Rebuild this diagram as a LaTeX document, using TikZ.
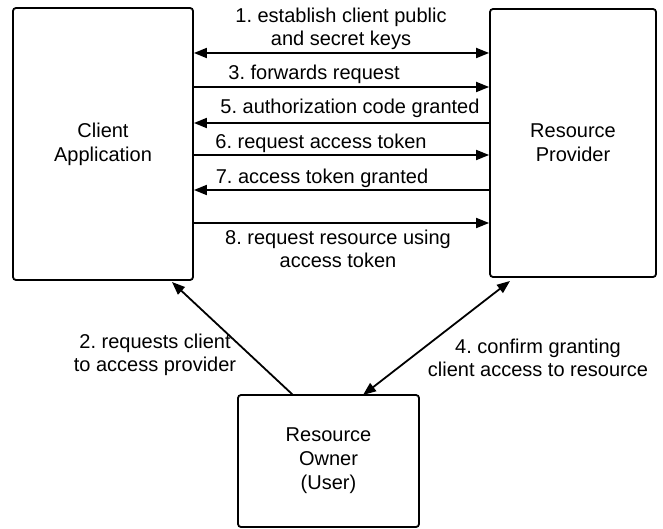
\documentclass[tikz,border=0pt]{standalone}
\usepackage{fontspec}
\setmainfont{Liberation Sans}
\usetikzlibrary{arrows.meta,calc}
\frenchspacing
\begin{document}
\begin{tikzpicture}[x=1pt,y=-1pt,
  box/.style={draw=black,line width=1.8pt,rounded corners=3pt,fill=white,align=center,inner sep=0pt,font=\fontsize{20}{24}\selectfont},
  lbl/.style={align=center,inner sep=0pt,font=\fontsize{20}{23}\selectfont},
  arr/.style={line width=1.8pt,-{Triangle[length=13pt,width=10pt]}},
  darr/.style={line width=1.8pt,{Triangle[length=13pt,width=10pt]}-{Triangle[length=13pt,width=10pt]}}]
\useasboundingbox (0,0) rectangle (663,529);
\node[box,minimum width=180pt,minimum height=272pt] (ca) at (103,144) {Client\\Application};
\node[box,minimum width=166pt,minimum height=268pt] (rp) at (573,143) {Resource\\Provider};
\node[box,minimum width=181pt,minimum height=132pt] (ro) at (328.5,461) {Resource\\Owner\\(User)};
% horizontal arrows
\coordinate (y1) at (0,53);
\coordinate (y3) at (0,87);
\coordinate (y5) at (0,123);
\coordinate (y6) at (0,155);
\coordinate (y7) at (0,190);
\coordinate (y8) at (0,223);
\draw[darr] (ca.east |- y1) -- (rp.west |- y1);
\draw[arr] (ca.east |- y3) -- (rp.west |- y3);
\draw[arr] (rp.west |- y5) -- (ca.east |- y5);
\draw[arr] (ca.east |- y6) -- (rp.west |- y6);
\draw[arr] (rp.west |- y7) -- (ca.east |- y7);
\draw[arr] (ca.east |- y8) -- (rp.west |- y8);
\node[lbl] (l1) at (341,29) {1. establish client public\\and secret keys};
\node[lbl] (l3) at (314,74) {3. forwards request};
\node[lbl] (l5) at (350,108) {5. authorization code granted};
\node[lbl] (l6) at (321,143) {6. request access token};
\node[lbl] (l7) at (322,178) {7. access token granted};
\node[lbl] (l8) at (338,249) {8. request resource using\\access token};
% diagonal arrows
\coordinate (ca2) at (172,282);
\coordinate (ro2) at (293,395);
\coordinate (rp4) at (510,281);
\coordinate (ro4) at (363,395);
\draw[arr] (ro2) -- (ca2);
\draw[darr] (ro4) -- (rp4);
\node[lbl] (l2) at (155,355) {2. requests client\\to access provider};
\node[lbl] (l4) at (538,358) {4. confirm granting\\client access to resource};
\end{tikzpicture}
\end{document}
